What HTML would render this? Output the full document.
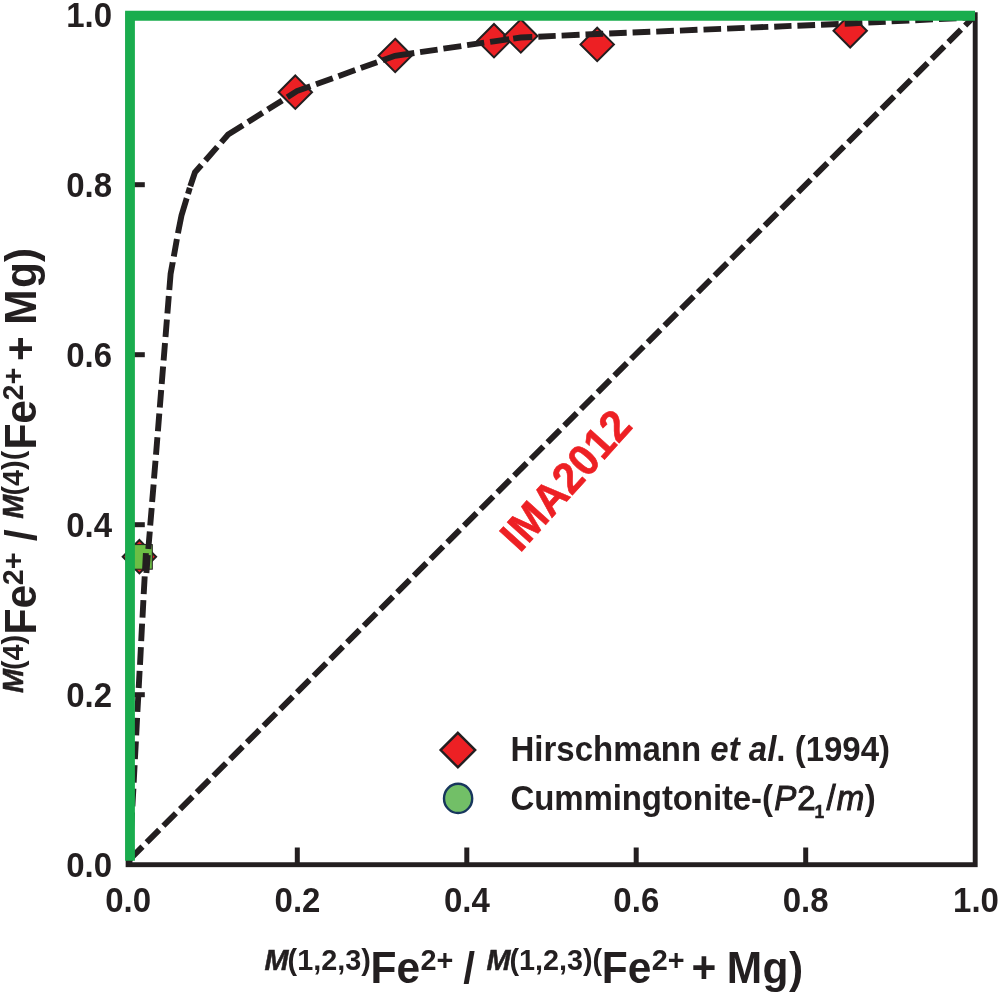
<!DOCTYPE html>
<html>
<head>
<meta charset="utf-8">
<title>M(4) vs M(1,2,3) Fe-Mg partitioning in cummingtonite</title>
<style>
html,body{margin:0;padding:0;background:#fff;}
body{width:1000px;height:995px;overflow:hidden;}
svg{display:block;}
text{font-family:"Liberation Sans",Arial,Helvetica,sans-serif;font-weight:bold;fill:#231f20;}
.it{font-style:italic;}
.nb{font-weight:normal;}
.tk{stroke:#231f20;stroke-width:1.0px;}
.tk2{stroke:#231f20;stroke-width:0.5px;}
</style>
</head>
<body>
<svg width="1000" height="995" viewBox="0 0 1000 995">
<rect x="0" y="0" width="1000" height="995" fill="#ffffff"/>

<!-- axes frame -->
<rect x="128.1" y="14.7" width="847.1" height="850" fill="none" stroke="#231f20" stroke-width="4.9"/>

<!-- ticks -->
<g stroke="#231f20" stroke-width="5" fill="none">
  <line x1="297.3" y1="864.7" x2="297.3" y2="847.5"/>
  <line x1="466.8" y1="864.7" x2="466.8" y2="847.5"/>
  <line x1="636.2" y1="864.7" x2="636.2" y2="847.5"/>
  <line x1="805.7" y1="864.7" x2="805.7" y2="847.5"/>
  <line x1="128.1" y1="694.7" x2="144.8" y2="694.7"/>
  <line x1="128.1" y1="524.7" x2="144.8" y2="524.7"/>
  <line x1="128.1" y1="354.7" x2="144.8" y2="354.7"/>
  <line x1="128.1" y1="184.7" x2="144.8" y2="184.7"/>
</g>

<!-- data diamonds -->
<g fill="#ed2024" stroke="#231f20" stroke-width="2" stroke-linejoin="miter">
  <path d="M139.4 540.0 L156.1 556.7 L139.4 573.4 L122.7 556.7 Z"/>
  <path d="M295.3 75.5 L312.0 92.2 L295.3 108.9 L278.6 92.2 Z"/>
  <path d="M395.2 38.8 L411.9 55.5 L395.2 72.2 L378.5 55.5 Z"/>
  <path d="M494.0 24.0 L510.7 40.7 L494.0 57.4 L477.3 40.7 Z"/>
  <path d="M520.8 19.3 L537.5 36.0 L520.8 52.7 L504.1 36.0 Z"/>
  <path d="M597.2 27.7 L613.9 44.4 L597.2 61.1 L580.5 44.4 Z"/>
  <path d="M850.2 14.1 L866.9 30.8 L850.2 47.5 L833.5 30.8 Z"/>
</g>
<!-- cummingtonite point -->
<rect x="128" y="544.6" width="24.3" height="24.6" fill="#6cbe45" stroke="#231f20" stroke-width="1"/>

<!-- dashed lines -->
<g fill="none" stroke="#231f20" stroke-width="5.9" stroke-linejoin="round">
  <line x1="128.1" y1="861.0" x2="975.2" y2="15.5" stroke-dasharray="17.7 5.9" stroke-dashoffset="-2.65"/>
  <path id="curve" stroke-linejoin="miter" d="M145.9 553.2 L145.0 571.0 M144.7 576.4 L143.7 594.1 M143.4 600.1 L142.5 617.7 M142.1 623.7 L141.2 641.2 M140.9 647.2 L140.0 664.8 M139.6 670.8 L138.7 688.0 M138.4 694.0 L137.4 711.8 M137.1 717.8 L136.2 735.4 M135.9 741.4 L134.9 759.1 M134.6 765.1 L133.7 782.7 M133.4 788.7 L132.4 806.3 M132.1 812.3 L131.1 830.0 M130.8 836.0 L129.9 853.6 M129.6 859.6 L129.3 864.7"/>
  <path id="curve2" stroke-linejoin="miter" d="M146.4 572.9 L147.8 555.1 M148.3 549.1 L149.8 531.5 M150.2 525.5 L151.7 507.9 M152.1 501.9 L153.6 484.4 M154.0 478.4 L155.5 460.8 M156.0 454.8 L157.4 437.2 M157.9 431.2 L159.3 413.6 M159.8 407.6 L161.2 390.0 M161.7 384.0 L163.1 366.5 M163.6 360.5 L165.0 342.9 M165.5 336.9 L166.9 319.4 M167.4 313.4 L168.8 295.9 M169.3 289.9 L170.6 274.0 L172.7 262.4 L172.7 262.2 M173.8 256.4 L175.4 247.5 L176.9 239.1 M178.0 233.3 L178.2 232.0 L181.5 215.4 L186.5 198.8 L186.7 198.2 M188.0 193.9 L189.8 187.8 M190.3 186.2 L195.0 172.3 L201.4 165.0 M205.4 160.5 L217.3 146.9 M221.3 142.4 L228.1 134.6 L243.0 125.2 M248.0 122.0 L262.7 112.7 M267.7 109.6 L282.2 100.4 M287.3 97.2 L296.9 91.1 L310.4 86.2 M316.0 84.2 L332.8 78.2 M338.4 76.2 L355.2 70.1 M360.8 68.1 L377.1 62.2 M382.7 60.2 L395.0 55.8 L414.3 53.0 M420.1 52.1 L437.6 49.6 M443.4 48.7 L461.3 46.1 M467.1 45.2 L484.2 42.7 M490.1 41.9 L494.0 41.3 L509.2 39.1 M513.2 38.6 L520.8 37.5 L532.3 37.0 M538.3 36.7 L555.7 35.9 M561.6 35.6 L579.6 34.8 M585.5 34.5 L597.4 34.0 L603.2 33.8 M609.2 33.5 L626.7 32.8 M632.6 32.5 L650.3 31.8 M656.2 31.6 L673.9 30.8 M679.9 30.6 L697.5 29.8 M703.5 29.6 L721.1 28.9 M727.1 28.6 L744.7 27.9 M750.6 27.6 L768.3 26.9 M774.2 26.7 L791.5 25.9 M797.4 25.7 L815.1 25.0 M821.0 24.7 L838.7 24.0 M844.7 23.7 L850.2 23.5 L862.4 22.9 M868.3 22.6 L885.7 21.7 M891.6 21.4 L909.3 20.6 M915.2 20.3 L932.9 19.4 M938.9 19.1 L956.5 18.2 M962.5 17.9 L975.2 17.3"/>
</g>

<!-- green boundary -->
<path d="M130 860.7 L130 15.75 L975 15.75" fill="none" stroke="#1aad4e" stroke-width="9.8" stroke-linejoin="miter"/>

<!-- x tick labels -->
<g font-size="33" text-anchor="middle" transform="translate(0,-36.480) scale(1,1.04)">
  <text x="128.1" y="912">0.0</text>
  <text x="297.5" y="912">0.2</text>
  <text x="466.9" y="912">0.4</text>
  <text x="636.3" y="912">0.6</text>
  <text x="805.7" y="912">0.8</text>
  <text x="976" y="912">1.0</text>
</g>
<!-- y tick labels -->
<g font-size="33" text-anchor="end">
  <text transform="translate(112,876.5) scale(1,1.04)">0.0</text>
  <text transform="translate(112,706.5) scale(1,1.04)">0.2</text>
  <text transform="translate(112,536.5) scale(1,1.04)">0.4</text>
  <text transform="translate(112,366.5) scale(1,1.04)">0.6</text>
  <text transform="translate(112,196.5) scale(1,1.04)">0.8</text>
  <text transform="translate(112,26.5) scale(1,1.04)">1.0</text>
</g>

<!-- x axis label -->
<text y="983" font-size="42.5" transform="translate(0,-39.320) scale(1,1.04)"><tspan x="264.6" y="970.5" font-size="28.8" class="it tk2">M</tspan><tspan x="287.6" y="970.5" font-size="28.8">(1,2,3)</tspan><tspan x="370.5" y="983">Fe</tspan><tspan x="420.5" y="970.5" font-size="28.8">2+</tspan><tspan x="463.3" y="983">/</tspan><tspan x="486.4" y="970.5" font-size="28.8" class="it tk2">M</tspan><tspan x="509.4" y="970.5" font-size="28.8">(1,2,3)(</tspan><tspan x="601.7" y="983">Fe</tspan><tspan x="651.8" y="970.5" font-size="28.8">2+</tspan><tspan x="691.5" y="983">+</tspan><tspan x="726.8" y="983">M</tspan><tspan x="762.5" y="983">g</tspan><tspan x="789" y="983">)</tspan></text>

<!-- y axis label -->
<text transform="translate(0,995) rotate(-90) translate(0,-1.440) scale(1,1.04)" font-size="42.5"><tspan x="302" y="23.7" font-size="28.8" class="it tk2">M</tspan><tspan x="325" y="23.7" font-size="28.8">(4)</tspan><tspan x="360.6" y="36">Fe</tspan><tspan x="409.7" y="23.7" font-size="28.8">2+</tspan><tspan x="453.7" y="36">/</tspan><tspan x="476.3" y="23.7" font-size="28.8" class="it tk2">M</tspan><tspan x="499.5" y="23.7" font-size="28.8">(4)(</tspan><tspan x="545.4" y="36">Fe</tspan><tspan x="594.6" y="23.7" font-size="28.8">2+</tspan><tspan x="634" y="36">+</tspan><tspan x="670.3" y="36">M</tspan><tspan x="707" y="36">g</tspan><tspan x="733" y="36">)</tspan></text>

<!-- IMA2012 -->
<text transform="translate(520,553.5) rotate(-48) scale(1,1.05)" font-size="42" style="fill:#ed2024;stroke:#ed2024;stroke-width:0.6px">IMA2012</text>

<!-- legend -->
<path d="M457.9 732.8 L475.2 750.1 L457.9 767.4 L440.6 750.1 Z" fill="#ed2024" stroke="#231f20" stroke-width="2.4"/>
<ellipse cx="458.1" cy="798.4" rx="14.1" ry="14.6" fill="#72bf67" stroke="#17365d" stroke-width="2.4"/>
<text x="510.5" y="761.2" font-size="33" transform="translate(0,-30.448) scale(1,1.04)">Hirschmann <tspan class="it">et al</tspan>. (1994)</text>
<text x="510.5" y="809.6" font-size="33" transform="translate(0,-32.384) scale(1,1.04)"><tspan letter-spacing="-0.1">Cummingtonite-(</tspan><tspan class="it nb tk" x="774.3">P</tspan><tspan class="nb tk" x="797.2">2</tspan><tspan font-size="17.5" x="814.6" y="817.2" class="tk2">1</tspan><tspan class="nb tk" x="826.4" y="809.6">/</tspan><tspan class="it nb tk" x="836.8">m</tspan><tspan x="864.8">)</tspan></text>
</svg>
</body>
</html>
